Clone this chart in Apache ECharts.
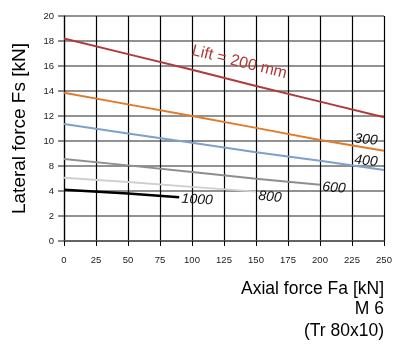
<!DOCTYPE html>
<html><head><meta charset="utf-8">
<script src="https://cdn.jsdelivr.net/npm/echarts@6/dist/echarts.min.js"></script>
<style>html,body{margin:0;padding:0;background:#fff}#c{width:395px;height:345px}</style>
</head><body><div id="c"></div>
<script>
// x categories / ticks (axial force, kN)
const xTicks = [0, 25, 50, 75, 100, 125, 150, 175, 200, 225, 250];
// y tick labels as printed on the reference (equal spacing, no "6")
const yTickLabels = ['0', '2', '4', '8', '10', '12', '14', '16', '18', '20'];
// series values, in axis position units (tick i at 2*i)
const lift200 = [[0, 16.2], [50, 14.95], [100, 13.7], [150, 12.4], [200, 11.15], [250, 9.9]];
const lift300 = [[0, 11.86], [50, 10.93], [100, 10.0], [150, 9.05], [200, 8.08], [250, 7.22]];
const lift400 = [[0, 9.36], [50, 8.6], [100, 7.86], [150, 7.1], [200, 6.42], [250, 5.68]];
const lift600 = [[0, 6.56], [50, 6.05], [100, 5.52], [150, 4.98], [175, 4.74], [200, 4.5]];
const lift800 = [[0, 5.06], [50, 4.72], [100, 4.33], [150, 3.95]];
const lift1000 = [[0, 4.1], [50, 3.8], [90, 3.5]];
// curve labels and anchor points (data units)
const curveLabels = ['Lift = 200 mm', '300', '400', '600', '800', '1000'];
const labelAnchors = [[137, 14.3], [236, 8.1], [236, 6.4], [211, 4.25], [161, 3.52], [104, 3.3]];

const chart = echarts.init(document.getElementById('c'), null, {renderer: 'canvas'});
const font = 'Liberation Sans, Arial, sans-serif';
function mk(name, data, color, width, li, rot) {
  return {
    type: 'line', name, data, symbol: 'none', smooth: false,
    lineStyle: {color, width}, z: 3,
    markPoint: {
      symbol: 'circle', symbolSize: 0, silent: true,
      data: [{coord: labelAnchors[li], label: {
        show: true, formatter: curveLabels[li], position: 'inside',
        color: li === 0 ? '#b03a3a' : '#111', fontStyle: li === 0 ? 'normal' : 'italic',
        fontSize: li === 0 ? 16 : 14, fontFamily: font, rotate: rot
      }}]
    }
  };
}
chart.setOption({
  animation: false,
  grid: {left: 64, right: 11, top: 16, bottom: 104},
  xAxis: {
    type: 'value', min: 0, max: 250, interval: 25,
    axisLine: {show: true, lineStyle: {color: '#555', width: 1.5}},
    axisTick: {show: true, length: 5, lineStyle: {color: '#000'}},
    axisLabel: {color: '#222', fontSize: 9.5, fontFamily: font, margin: 14},
    splitLine: {show: true, lineStyle: {color: '#000', width: 1.2}}
  },
  yAxis: {
    type: 'value', min: 0, max: 18, interval: 2,
    axisLine: {show: true, lineStyle: {color: '#000', width: 1.2}},
    axisTick: {show: true, length: 6, lineStyle: {color: '#666', width: 1.5}},
    axisLabel: {color: '#222', fontSize: 9.5, fontFamily: font, margin: 10,
      formatter: v => yTickLabels[Math.round(v / 2)]},
    splitLine: {show: true, lineStyle: {color: '#6e6e6e', width: 1.5}},
    name: 'Lateral force Fs [kN]', nameLocation: 'middle', nameGap: 35, nameRotate: 90,
    nameTextStyle: {color: '#000', fontSize: 19, fontFamily: font}
  },
  series: [
    mk('200', lift200, '#b03a3a', 2, 0, -14),
    mk('300', lift300, '#e07b2a', 2, 1, -5),
    mk('400', lift400, '#7f9fcc', 2, 2, -5),
    mk('600', lift600, '#8e8e8e', 2, 3, -5),
    mk('800', lift800, '#cfcfcf', 2, 4, -5),
    mk('1000', lift1000, '#000', 2.5, 5, -3)
  ],
  graphic: [
    {type: 'text', right: 11, top: 280, style: {text: 'Axial force Fa [kN]', fill: '#000', font: '17.5px ' + font, textAlign: 'right'}},
    {type: 'text', right: 11, top: 300, style: {text: 'M 6', fill: '#000', font: '17.5px ' + font, textAlign: 'right'}},
    {type: 'text', right: 11, top: 322, style: {text: '(Tr 80x10)', fill: '#000', font: '17.5px ' + font, textAlign: 'right'}}
  ]
});
</script></body></html>
